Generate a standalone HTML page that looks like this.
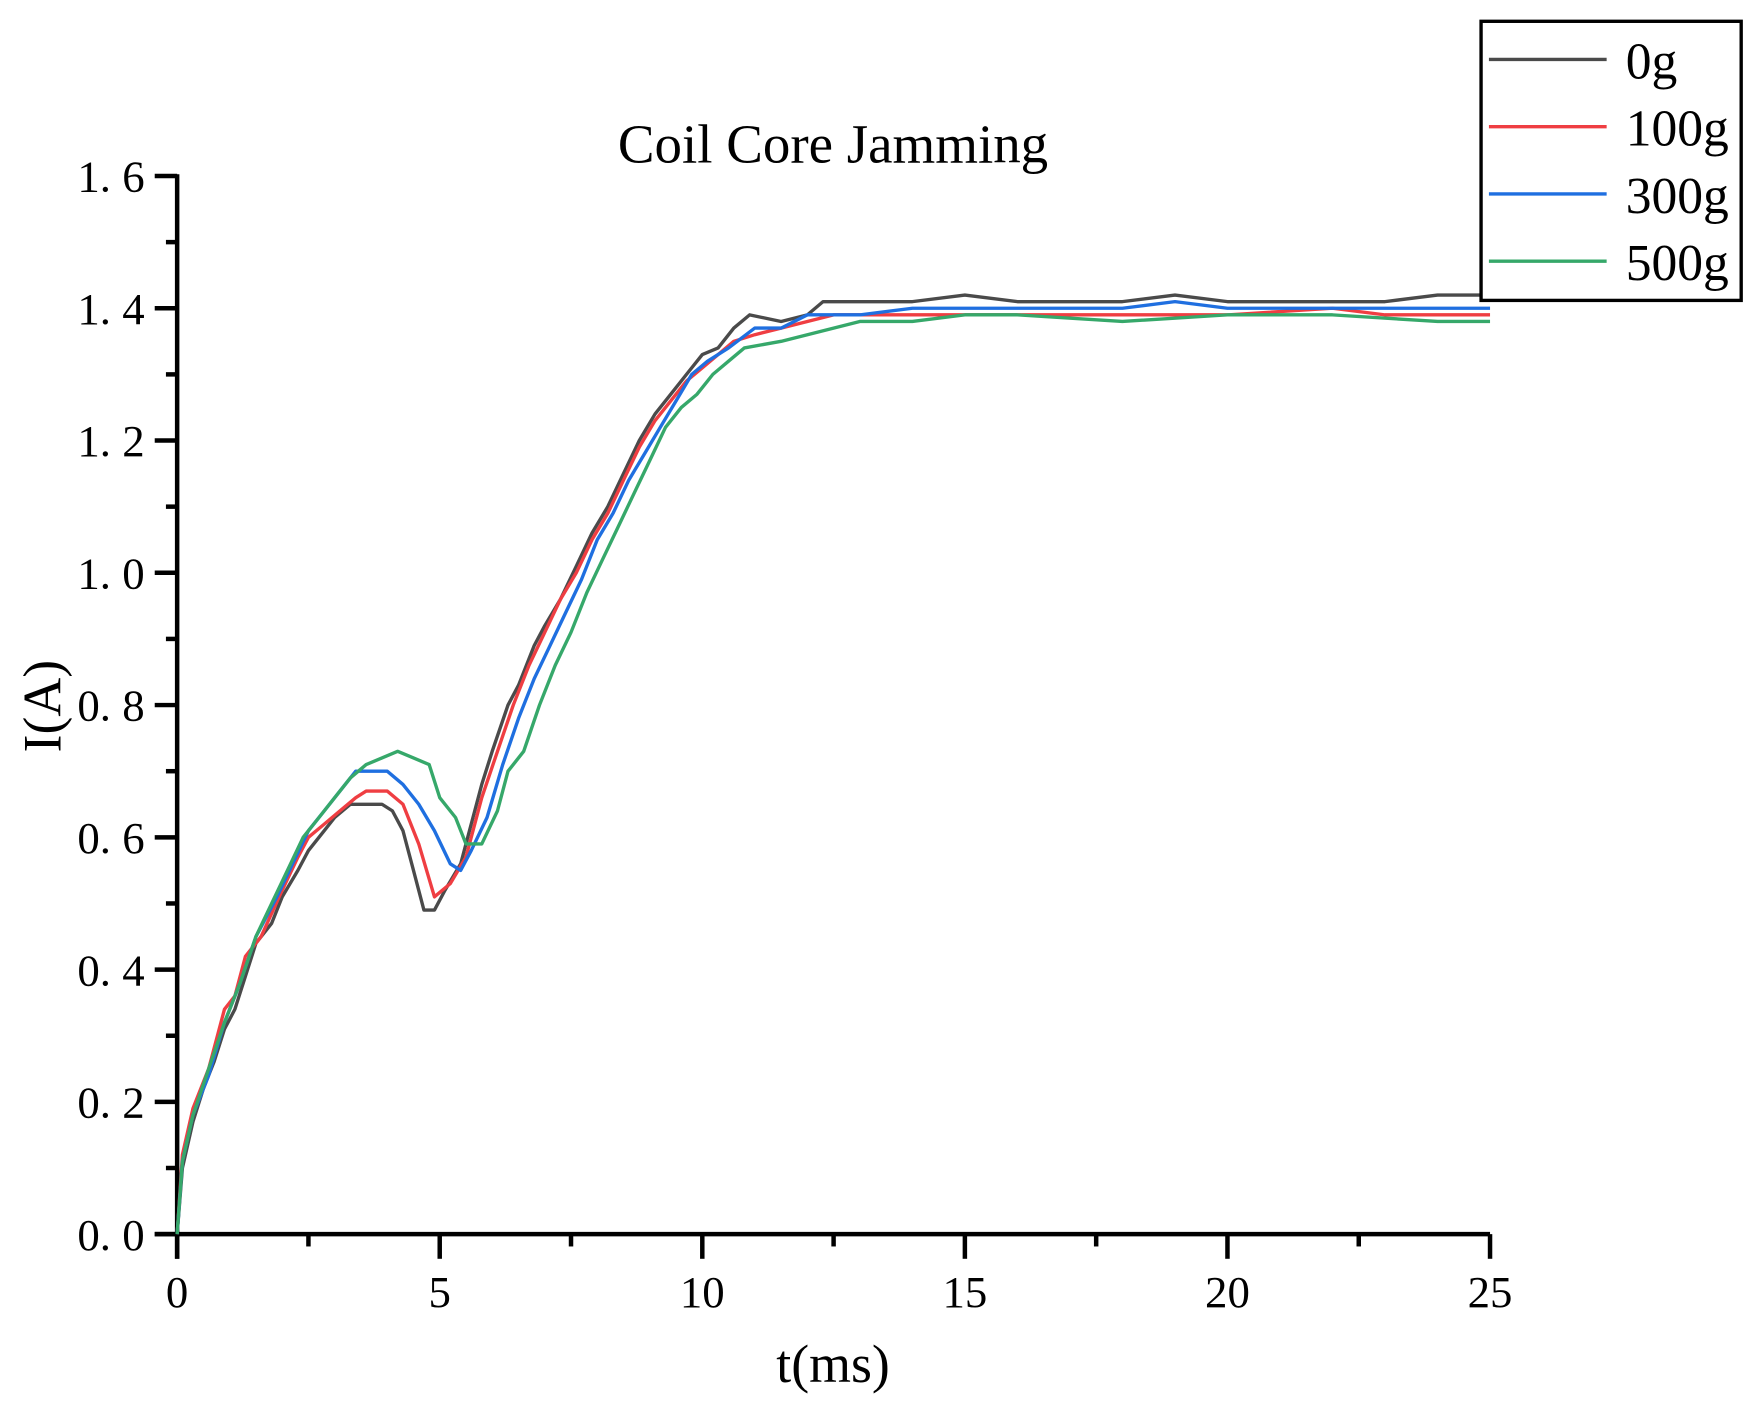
<!DOCTYPE html>
<html><head><meta charset="utf-8">
<style>
html,body{margin:0;padding:0;background:#fff;}
svg{display:block;}
text{font-family:"Liberation Serif","Noto Serif CJK SC",serif;fill:#000;}
</style></head>
<body>
<svg id="chart" width="1758" height="1409" viewBox="0 0 1568 1257" preserveAspectRatio="none" xmlns="http://www.w3.org/2000/svg">
<rect width="1568" height="1257" fill="#fff"/>
<text x="743" y="145" font-size="49" text-anchor="middle">Coil Core Jamming</text>
<text x="743" y="1233" font-size="48" text-anchor="middle">t(ms)</text>
<text transform="translate(54,630) rotate(-90)" font-size="48" text-anchor="middle">I(A)</text>
<g id="axes"></g>
<g id="series"></g>
<g>
<rect x="1321" y="19" width="232" height="249" fill="#fff" stroke="#000" stroke-width="3"/>
<line x1="1328" y1="53" x2="1433" y2="53" stroke="#4a4a4a" stroke-width="3"/>
<text x="1450" y="70" font-size="46">0g</text>
<line x1="1328" y1="113" x2="1433" y2="113" stroke="#ef3e42" stroke-width="3"/>
<text x="1450" y="130" font-size="46">100g</text>
<line x1="1328" y1="173" x2="1433" y2="173" stroke="#1f6fe0" stroke-width="3"/>
<text x="1450" y="190" font-size="46">300g</text>
<line x1="1328" y1="233" x2="1433" y2="233" stroke="#36a86a" stroke-width="3"/>
<text x="1450" y="250" font-size="46">500g</text>
</g>
</svg>
<script>
const xTicks = [0, 5, 10, 15, 20, 25];
const yTicks = [0, 0.2, 0.4, 0.6, 0.8, 1.0, 1.2, 1.4, 1.6];
const yTickLabels = ["0. 0","0. 2","0. 4","0. 6","0. 8","1. 0","1. 2","1. 4","1. 6"];
const seriesNames = ["0g","100g","300g","500g"];
const t0g = [0,0.1,0.3,0.5,0.7,0.9,1.1,1.3,1.5,1.8,2.0,2.3,2.5,2.8,3.0,3.3,3.6,3.9,4.1,4.3,4.5,4.7,4.9,5.1,5.4,5.6,5.8,6.0,6.3,6.5,6.8,7.0,7.3,7.6,7.9,8.2,8.5,8.8,9.1,9.4,9.7,10.0,10.3,10.6,10.9,11.5,12.0,12.3,13,14,15,16,17,18,19,20,22,23,24,25];
const v0g = [0,0.1,0.17,0.22,0.26,0.31,0.34,0.39,0.44,0.47,0.51,0.55,0.58,0.61,0.63,0.65,0.65,0.65,0.64,0.61,0.55,0.49,0.49,0.52,0.56,0.62,0.68,0.73,0.80,0.83,0.89,0.92,0.96,1.01,1.06,1.10,1.15,1.20,1.24,1.27,1.30,1.33,1.34,1.37,1.39,1.38,1.39,1.41,1.41,1.41,1.42,1.41,1.41,1.41,1.42,1.41,1.41,1.41,1.42,1.42];
const t100g = [0,0.1,0.3,0.6,0.9,1.1,1.3,1.6,2.0,2.3,2.5,2.8,3.1,3.4,3.6,4.0,4.3,4.6,4.9,5.2,5.5,5.8,6.1,6.4,6.7,7.0,7.3,7.6,7.9,8.2,8.5,8.8,9.1,9.4,9.7,10,10.3,10.6,11,11.5,12,12.5,14,16,18,20,22,23,25];
const v100g = [0,0.12,0.19,0.25,0.34,0.36,0.42,0.45,0.52,0.57,0.60,0.62,0.64,0.66,0.67,0.67,0.65,0.59,0.51,0.53,0.57,0.66,0.73,0.80,0.86,0.91,0.96,1.00,1.05,1.09,1.14,1.19,1.23,1.26,1.29,1.31,1.33,1.35,1.36,1.37,1.38,1.39,1.39,1.39,1.39,1.39,1.40,1.39,1.39];
const t300g = [0,0.1,0.3,0.6,0.9,1.2,1.5,1.9,2.2,2.5,2.8,3.1,3.4,3.7,4.0,4.3,4.6,4.9,5.2,5.4,5.6,5.9,6.2,6.5,6.8,7.1,7.4,7.7,8.0,8.3,8.6,8.9,9.2,9.5,9.8,10.1,10.5,11,11.5,12,13,14,16,18,19,20,22,25];
const v300g = [0,0.11,0.18,0.24,0.32,0.38,0.45,0.51,0.56,0.61,0.64,0.67,0.70,0.70,0.70,0.68,0.65,0.61,0.56,0.55,0.58,0.63,0.71,0.78,0.84,0.89,0.94,0.99,1.05,1.09,1.14,1.18,1.22,1.26,1.30,1.32,1.34,1.37,1.37,1.39,1.39,1.40,1.40,1.40,1.41,1.40,1.40,1.40];
const t500g = [0,0.1,0.3,0.6,0.9,1.2,1.5,1.8,2.1,2.4,2.7,3.0,3.3,3.6,3.9,4.2,4.5,4.8,5.0,5.3,5.5,5.8,6.1,6.3,6.6,6.9,7.2,7.5,7.8,8.1,8.4,8.7,9.0,9.3,9.6,9.9,10.2,10.5,10.8,11.5,12,12.5,13,14,15,16,18,20,22,24,25];
const v500g = [0,0.11,0.18,0.25,0.32,0.38,0.45,0.50,0.55,0.60,0.63,0.66,0.69,0.71,0.72,0.73,0.72,0.71,0.66,0.63,0.59,0.59,0.64,0.70,0.73,0.80,0.86,0.91,0.97,1.02,1.07,1.12,1.17,1.22,1.25,1.27,1.30,1.32,1.34,1.35,1.36,1.37,1.38,1.38,1.39,1.39,1.38,1.39,1.39,1.38,1.38];

const X0=158, X1=1329, Y0=1101, Y1=157;
function xs(t){return X0 + (t-0)/(25-0)*(X1-X0);}
function ys(v){return Y0 - (v-0)/(1.6-0)*(Y0-Y1);}
const NS="http://www.w3.org/2000/svg";
function mk(tag, attrs, parent){const e=document.createElementNS(NS,tag);for(const k in attrs)e.setAttribute(k,attrs[k]);parent.appendChild(e);return e;}
const axes=document.getElementById('axes');
const yAxis=mk('line',{x1:X0,y1:Y1-1.5,x2:X0,y2:Y0+22,stroke:'#000','stroke-width':4},axes);


const xAxis=mk('line',{x1:X0-20,y1:Y0,x2:X1,y2:Y0,stroke:'#000','stroke-width':4},axes);


yTicks.forEach((v,i)=>{
  const tk=mk('line',{x1:X0-20,y1:ys(v),x2:X0,y2:ys(v),stroke:'#000','stroke-width':4},axes);
  
  
  const lb=mk('text',{x:X0-29,y:ys(v)+14,'font-size':40,'text-anchor':'end'},axes);
  lb.textContent=yTickLabels[i];
  
  
  if(i<yTicks.length-1){
    const m=mk('line',{x1:X0-10,y1:ys(v+0.1),x2:X0,y2:ys(v+0.1),stroke:'#000','stroke-width':4},axes);
    
    
  }
});
xTicks.forEach((t,i)=>{
  const tk=mk('line',{x1:xs(t),y1:Y0,x2:xs(t),y2:Y0+22,stroke:'#000','stroke-width':4},axes);
  
  
  const lb=mk('text',{x:xs(t),y:Y0+65,'font-size':40,'text-anchor':'middle'},axes);
  lb.textContent=String(t);
  
  
  if(i<xTicks.length-1){
    const m=mk('line',{x1:xs(t+2.5),y1:Y0,x2:xs(t+2.5),y2:Y0+11,stroke:'#000','stroke-width':4},axes);
    
    
  }
});
const sg=document.getElementById('series');
const sets=[[t0g,v0g,'#4a4a4a'],[t100g,v100g,'#ef3e42'],[t300g,v300g,'#1f6fe0'],[t500g,v500g,'#36a86a']];
sets.forEach((s,k)=>{
  const pts=s[0].map((t,i)=>xs(t).toFixed(1)+','+ys(s[1][i]).toFixed(1)).join(' ');
  const pl=mk('polyline',{points:pts,fill:'none',stroke:s[2],'stroke-width':3,'stroke-linejoin':'round'},sg);
  
  
});
</script>
</body></html>
